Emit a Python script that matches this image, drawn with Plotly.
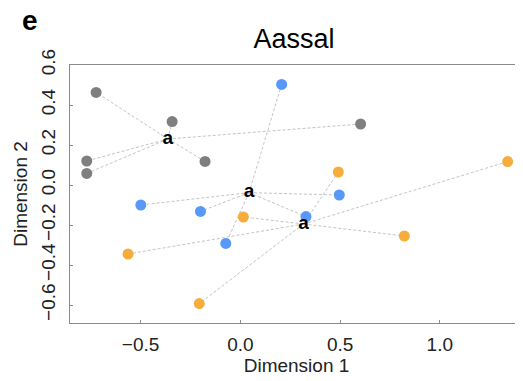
import numpy as np
import plotly.graph_objects as go

# Data
grey_x = [-0.723, -0.342, 0.603, -0.770, -0.770, -0.177]
grey_y = [0.463, 0.317, 0.305, 0.120, 0.058, 0.118]
blue_x = [0.207, -0.499, -0.200, -0.073, 0.329, 0.496]
blue_y = [0.503, -0.100, -0.132, -0.292, -0.158, -0.050]
orange_x = [0.491, 1.340, 0.015, 0.822, -0.563, -0.206]
orange_y = [0.065, 0.117, -0.160, -0.255, -0.345, -0.593]
group_label = "a"
x_ticks = [-0.5, 0.0, 0.5, 1.0]
y_ticks = [-0.6, -0.4, -0.2, 0.0, 0.2, 0.4, 0.6]

groups = [
    (grey_x, grey_y, "#7f7f7f"),
    (blue_x, blue_y, "#5798f8"),
    (orange_x, orange_y, "#f7ad3c"),
]

fig = go.Figure()
FONT = "Liberation Sans, Arial, sans-serif"

# spider lines from each point to its group centroid
for gx, gy, col in groups:
    cx, cy = float(np.mean(gx)), float(np.mean(gy))
    lx, ly = [], []
    for px, py in zip(gx, gy):
        lx += [cx, px, None]
        ly += [cy, py, None]
    fig.add_trace(go.Scatter(x=lx, y=ly, mode="lines",
                             line=dict(color="#c4c4c4", width=1, dash="3px,2px"),
                             hoverinfo="skip", showlegend=False))

for gx, gy, col in groups:
    fig.add_trace(go.Scatter(x=gx, y=gy, mode="markers",
                             marker=dict(color=col, size=11, line=dict(width=0)),
                             showlegend=False))

for gx, gy, col in groups:
    cx, cy = float(np.mean(gx)), float(np.mean(gy))
    fig.add_trace(go.Scatter(x=[cx], y=[cy], mode="text", text=["<b>" + group_label + "</b>"],
                             textposition="middle center",
                             textfont=dict(family=FONT, size=19, color="black"),
                             showlegend=False))

W, H = 515, 373  # page body has an 8px margin
L, T, B = 62, 57, 58
PW, PH = W - L, H - T - B

fig.update_layout(
    width=W, height=H,
    margin=dict(l=L, r=0, t=T, b=B, autoexpand=False),
    paper_bgcolor="white", plot_bgcolor="white",
    font=dict(family=FONT, color="#222222"),
    title=dict(text="Aassal", x=286 / W, xanchor="center", y=1 - 31 / H, yanchor="middle",
               font=dict(family=FONT, size=27, color="black")),
)
fig.update_xaxes(
    range=[-0.854, 1.417], tickvals=x_ticks, ticktext=["\u22120.5", "0.0", "0.5", "1.0"],
    showgrid=False, zeroline=False, showline=True, linecolor="#8a8a8a", linewidth=1.2, mirror=True,
    ticks="inside", ticklen=3, tickcolor="#8a8a8a", tickfont=dict(size=19, color="#222222"),
    ticklabelstandoff=4, automargin=False,
    title=dict(text="Dimension 1", font=dict(size=19, color="#222222"), standoff=0),
)
fig.update_yaxes(
    range=[-0.69, 0.6], tickvals=y_ticks,
    ticktext=["\u22120.6", "\u22120.4", "\u22120.2", "0.0", "0.2", "0.4", "0.6"],
    showgrid=False, zeroline=False, showline=True, linecolor="#8a8a8a", linewidth=1.2, mirror=False,
    ticks="inside", ticklen=3, tickcolor="#8a8a8a", tickangle=-90,
    tickfont=dict(size=19, color="#222222"), ticklabelstandoff=6, automargin=False,
    title=dict(text="Dimension 2", font=dict(size=19, color="#222222"), standoff=5),
)
fig.add_annotation(text="<b>e</b>", xref="paper", yref="paper", x=(22 - L) / PW, y=(T + PH - 13) / PH,
                   xanchor="center", yanchor="middle", showarrow=False,
                   font=dict(family=FONT, size=28, color="black"))

fig.write_html("out.html")
